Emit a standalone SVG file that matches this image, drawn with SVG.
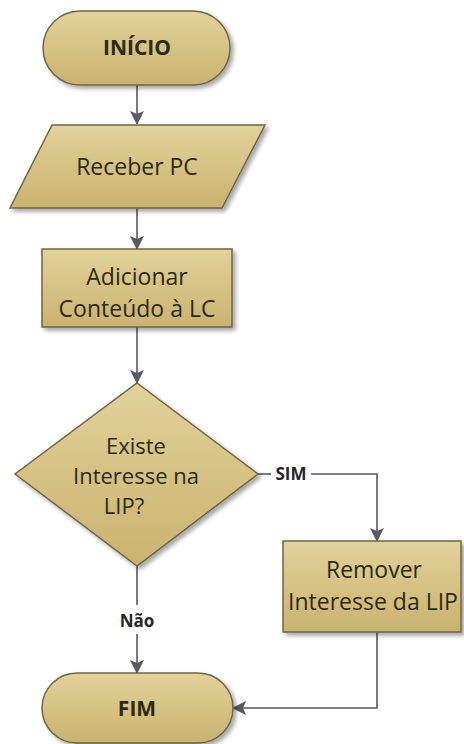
<svg xmlns="http://www.w3.org/2000/svg" width="464" height="744" viewBox="0 0 464 744">
  <defs>
    <linearGradient id="tan" x1="0" y1="0" x2="0" y2="1">
      <stop offset="0" stop-color="#e2d29c"/>
      <stop offset="0.5" stop-color="#d6c283"/>
      <stop offset="1" stop-color="#cab370"/>
    </linearGradient>
    <filter id="shadow" x="-10%" y="-10%" width="130%" height="130%">
      <feDropShadow dx="3" dy="3" stdDeviation="2" flood-color="#000" flood-opacity="0.35"/>
    </filter>
    <marker id="arrow" markerUnits="userSpaceOnUse" markerWidth="14" markerHeight="14" viewBox="0 0 14 14" refX="13" refY="7" orient="auto">
      <path d="M0,0 L14,7 L0,14 L3,7 Z" fill="#565b62"/>
    </marker>
  </defs>
  <style>
    .shape { fill: url(#tan); stroke: #6f6645; stroke-width: 1.5; filter: url(#shadow); }
    .label { font-family: "Open Sans", "Noto Sans", sans-serif; font-size: 23px; font-weight: 500; fill: #2f2a14; text-anchor: middle; }
    .small { font-size: 22px; }
    .term { font-weight: bold; font-size: 21px; }
    .edge { fill: none; stroke: #565b62; stroke-width: 1.6; }
    .edge-label { font-family: "Open Sans", "Noto Sans", sans-serif; font-size: 17px; font-weight: bold; fill: #262626; text-anchor: middle; }
  </style>

  <rect width="464" height="744" fill="#ffffff"/>

  <!-- connectors -->
  <g id="connectors">
    <path class="edge" d="M137,85 V124" marker-end="url(#arrow)"/>
    <path class="edge" d="M137,208 V249" marker-end="url(#arrow)"/>
    <path class="edge" d="M137,327 V383" marker-end="url(#arrow)"/>
    <path class="edge" d="M258,474 H271"/>
    <path class="edge" d="M311,474 H377 V541" marker-end="url(#arrow)"/>
    <text class="edge-label" x="291" y="480">SIM</text>
    <path class="edge" d="M137,566 V605"/>
    <path class="edge" d="M137,634 V673" marker-end="url(#arrow)"/>
    <text class="edge-label" x="137" y="627">Não</text>
    <path class="edge" d="M377,632 V708 H233" marker-end="url(#arrow)"/>
  </g>

  <!-- start terminal -->
  <g id="inicio">
    <rect class="shape" x="43" y="11" width="187" height="74" rx="37" ry="37"/>
    <text class="label term" x="137" y="55">INÍCIO</text>
  </g>

  <!-- input -->
  <g id="receber-pc">
    <polygon class="shape" points="52,125 265,125 222,208 10,208"/>
    <text class="label" x="137" y="175">Receber PC</text>
  </g>

  <!-- process -->
  <g id="adicionar-conteudo">
    <rect class="shape" x="42" y="249" width="190" height="78"/>
    <text class="label" x="137" y="285">Adicionar</text>
    <text class="label" x="137" y="317">Conteúdo à LC</text>
  </g>

  <!-- decision -->
  <g id="existe-interesse">
    <polygon class="shape" points="137,383 258,474 137,566 15,474"/>
    <text class="label small" x="136" y="454">Existe</text>
    <text class="label small" x="136" y="484">Interesse na</text>
    <text class="label small" x="124" y="514">LIP?</text>
  </g>

  <!-- process -->
  <g id="remover-interesse">
    <rect class="shape" x="283" y="541" width="178" height="91"/>
    <text class="label" x="374" y="578">Remover</text>
    <text class="label" x="373" y="610">Interesse da LIP</text>
  </g>

  <!-- end terminal -->
  <g id="fim">
    <rect class="shape" x="42" y="673" width="191" height="70" rx="35" ry="35"/>
    <text class="label term" x="137" y="716">FIM</text>
  </g>
</svg>
